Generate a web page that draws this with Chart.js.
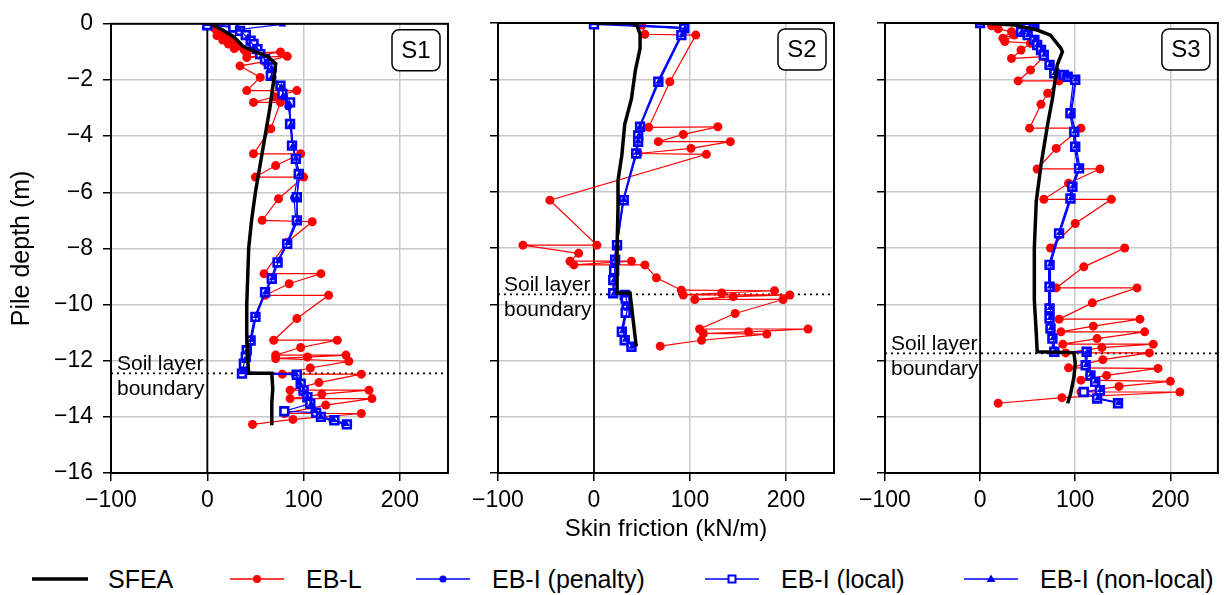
<!DOCTYPE html>
<html>
<head>
<meta charset="utf-8">
<script src="https://cdn.jsdelivr.net/npm/chart.js@4.4.1/dist/chart.umd.min.js"></script>
<style>
  body { margin: 0; background: #fff; }
  #wrap { position: relative; width: 1226px; height: 595px; overflow: hidden;
          font-family: "Liberation Sans", Arial, sans-serif; }
  #wrap canvas { position: absolute; top: 0; }
  .leg-mark { position: absolute; top: 569px; }
  .leg-text { position: absolute; top: 565px; height: 28px; line-height: 28px; font-size: 25px; color: #000; white-space: nowrap; }
</style>
</head>
<body>
<div id="wrap">
  <canvas id="p1" width="460" height="550" style="left:0px"></canvas>
  <canvas id="p2" width="385" height="550" style="left:460px"></canvas>
  <canvas id="p3" width="381" height="550" style="left:845px"></canvas>
  <div id="legend"></div>
</div>
<script>
// axes
const X_TICKS = [-100, 0, 100, 200];
const Y_TICKS = [0, -2, -4, -6, -8, -10, -12, -14, -16];
const PANEL_LABELS = ['S1', 'S2', 'S3'];
const BOUNDARY_DEPTH = [-12.45, -9.65, -11.75];
const LEGEND_LABELS = ['SFEA', 'EB-L', 'EB-I (penalty)', 'EB-I (local)', 'EB-I (non-local)'];

// S1  [skin friction, depth]
const S1_SFEA = [[3,0],[15,-0.2],[27,-0.45],[37,-0.8],[50,-1.0],[62,-1.15],[71,-1.42],[69,-2],[65,-3],[60,-4],[55,-5],[50,-6],[46,-7],[43,-8],[42,-9],[41,-10],[41,-11],[42,-12],[43,-12.45],[67,-12.45],[68,-13],[67,-13.5],[67,-14.3]];
const S1_EBL = [[3,-0.05],[8,-0.18],[14,-0.3],[10,-0.42],[20,-0.48],[16,-0.58],[26,-0.62],[22,-0.72],[32,-0.78],[28,-0.88],[38,-0.92],[41,-1.05],[76,-1.0],[55,-1.12],[41,-1.2],[83,-1.16],[60,-1.35],[34,-1.5],[55,-1.91],[41,-2.38],[93,-2.38],[70,-2.6],[48,-2.8],[76,-2.8],[66,-3.74],[48,-4.63],[97,-4.63],[71,-5.05],[50,-5.46],[100,-5.46],[74,-6.23],[57,-7.0],[109,-7.05],[83,-7.78],[59,-8.9],[118,-8.9],[85,-9.26],[60,-9.67],[126,-9.67],[93,-10.5],[69,-11.27],[135,-11.27],[97,-11.53],[71,-11.8],[144,-11.8],[104,-11.87],[71,-11.92],[147,-12.02],[107,-12.26],[78,-12.48],[160,-12.48],[116,-12.78],[86,-13.05],[168,-13.05],[119,-13.19],[86,-13.35],[171,-13.35],[123,-13.58],[80,-13.88],[160,-13.88],[89,-14.09],[47,-14.27]];
const S1_PENALTY = [[0,0],[25,-0.1],[35,-0.3],[44,-0.55],[50,-0.8],[55,-1.05],[61,-1.3],[66,-1.5],[68,-1.9],[75,-2.25],[80,-2.6],[84,-2.95],[87,-3.6],[89,-4.3],[91,-4.85],[94,-5.4],[90,-6.2],[92,-7.0],[82,-7.85],[72,-8.5],[66,-9.1],[59,-9.6],[49,-10.45],[44,-11.3],[40,-11.7],[37,-12.2],[35,-12.45],[91,-12.5],[96,-12.85],[99,-13.1],[103,-13.35],[106,-13.6],[111,-13.8],[117,-14.0],[130,-14.15],[143,-14.27]];
const S1_LOCAL = [[0,-0.05],[27,-0.13],[34,-0.25],[40,-0.4],[45,-0.6],[48,-0.72],[52,-0.9],[55,-1.08],[60,-1.26],[64,-1.43],[67,-1.55],[66,-1.85],[76,-2.2],[78,-2.5],[86,-2.8],[86,-3.57],[88,-4.34],[92,-4.81],[95,-5.35],[93,-6.18],[93,-7.0],[83,-7.84],[73,-8.5],[67,-9.08],[60,-9.56],[50,-10.44],[45,-11.28],[41,-11.63],[40,-11.87],[38,-12.11],[36,-12.46],[93,-12.5],[97,-12.82],[100,-13.06],[104,-13.3],[107,-13.53],[80,-13.8],[113,-13.85],[118,-14.0],[132,-14.12],[145,-14.27]];
const S1_NONLOCAL = [[0,0],[78,-0.02],[33,-0.2],[42,-0.5],[50,-0.85],[57,-1.15],[63,-1.4],[67,-1.6],[67,-1.9],[77,-2.25],[79,-2.55],[85,-2.85],[87,-3.6],[89,-4.35],[92,-4.8],[96,-5.35],[93,-6.2],[94,-7.0],[84,-7.8],[74,-8.45],[68,-9.05],[61,-9.55],[51,-10.4],[46,-11.25],[42,-11.6],[39,-12.0],[36,-12.4],[92,-12.48],[96,-12.8],[100,-13.05],[104,-13.3],[108,-13.55],[112,-13.78],[118,-14.0],[131,-14.1],[144,-14.25]];

// S2
const S2_SFEA = [[0,0],[38,0],[45,-0.1],[48,-0.4],[48,-0.9],[43,-1.7],[39,-2.7],[32,-3.6],[29,-4.7],[25,-5.6],[25,-6.6],[24,-8],[24,-8.8],[24,-9.6],[37.5,-9.6],[44,-11.5]];
const S2_EBL = [[50,-0.07],[53,-0.4],[106,-0.43],[79,-2.09],[57,-3.71],[129,-3.69],[93,-3.96],[67,-4.22],[142,-4.22],[101,-4.46],[46,-4.64],[117,-4.67],[-46,-6.3],[3,-7.9],[-74,-7.9],[-16,-8.19],[-25,-8.47],[39,-8.47],[-21,-8.6],[53,-8.6],[65,-9.06],[91,-9.5],[188,-9.52],[133,-9.6],[93,-9.67],[204,-9.67],[145,-9.73],[105,-9.83],[197,-9.83],[147,-10.33],[110,-10.88],[223,-10.88],[161,-10.98],[114,-11.04],[180,-11.06],[112,-11.28],[69,-11.49]];
const S2_PENALTY = [[0,0],[93,-0.15],[90,-0.45],[66,-2.1],[47,-3.7],[45,-4.05],[45,-4.25],[43,-4.65],[30,-6.3],[23,-7.9],[21,-8.45],[20,-9.1],[20,-9.6],[31,-9.65],[33,-10.2],[28,-11.0],[31,-11.3],[38,-11.5]];
const S2_LOCAL = [[0,-0.05],[94,-0.19],[91,-0.43],[67,-2.09],[48,-3.69],[46,-4.0],[46,-4.22],[44,-4.64],[31,-6.3],[24,-7.9],[22,-8.42],[21,-8.8],[20,-9.14],[20,-9.61],[32,-9.67],[33,-9.8],[34,-10.15],[33,-10.3],[29,-10.98],[32,-11.28],[39,-11.51]];
const S2_NONLOCAL = [[0,0],[95,-0.2],[92,-0.42],[68,-2.08],[48,-3.7],[47,-4.0],[46,-4.2],[45,-4.6],[31,-6.28],[24,-7.92],[22,-8.4],[21,-9.15],[21,-9.62],[33,-9.68],[35,-10.15],[30,-10.95],[33,-11.25],[40,-11.5]];

// S3
const S3_SFEA = [[0,0],[36,-0.07],[60,-0.25],[74,-0.43],[85,-0.9],[86.5,-1.02],[81,-1.5],[76,-2.7],[71,-3.6],[64,-5.05],[59,-6.35],[57,-8],[57,-9.85],[59,-11],[60,-11.69],[98.6,-11.72],[100,-12.1],[98.6,-12.6],[95,-13.2],[92,-13.52]];
const S3_EBL = [[12,-0.1],[19,-0.21],[33,-0.31],[24,-0.54],[36,-0.43],[26,-0.66],[53,-0.72],[43,-0.96],[33,-1.26],[67,-1.2],[53,-1.67],[40,-2.06],[83,-2.06],[71,-2.5],[64,-2.89],[52,-3.74],[106,-3.74],[80,-4.46],[60,-5.19],[126,-5.19],[93,-5.7],[67,-6.27],[138,-6.27],[100,-7.13],[74,-8.0],[152,-8.0],[109,-8.67],[80,-9.42],[165,-9.42],[118,-9.95],[83,-10.53],[168,-10.53],[119,-10.78],[85,-10.98],[173,-10.98],[123,-11.22],[87,-11.42],[182,-11.42],[128,-11.54],[90,-11.73],[178,-11.73],[129,-11.97],[93,-12.26],[187,-12.28],[133,-12.53],[106,-12.7],[200,-12.74],[146,-12.92],[106,-13.12],[210,-13.12],[86,-13.32],[19,-13.52]];
const S3_PENALTY = [[0,0],[55,-0.04],[42,-0.3],[49,-0.45],[56,-0.62],[59,-0.8],[63,-0.98],[66,-1.15],[72,-1.5],[77,-1.8],[87,-1.87],[91,-1.93],[98,-2.05],[94,-3.2],[98,-3.9],[99,-4.4],[103,-5.2],[96,-5.8],[94,-6.25],[82,-7.5],[72,-8.6],[72,-9.4],[72,-10.1],[72,-10.5],[73,-10.9],[75,-11.25],[77,-11.7],[111,-11.72],[110,-12.2],[115,-12.55],[120,-12.8],[125,-13.05],[122,-13.35],[144,-13.5]];
const S3_LOCAL = [[0,0],[57,-0.05],[43,-0.31],[50,-0.43],[57,-0.6],[60,-0.78],[64,-0.96],[67,-1.14],[73,-1.49],[78,-1.79],[88,-1.85],[92,-1.91],[100,-2.02],[95,-3.21],[99,-3.87],[100,-4.4],[104,-5.17],[97,-5.82],[95,-6.24],[83,-7.48],[73,-8.6],[73,-9.38],[73,-10.15],[73,-10.5],[74,-10.86],[76,-11.22],[78,-11.69],[112,-11.69],[111,-12.17],[116,-12.53],[121,-12.76],[126,-13.06],[109,-13.12],[123,-13.35],[145,-13.52]];
const S3_NONLOCAL = [[0,0],[58,-0.06],[44,-0.32],[51,-0.42],[58,-0.58],[61,-0.76],[65,-0.95],[68,-1.12],[74,-1.48],[79,-1.78],[89,-1.84],[93,-1.9],[101,-2.0],[96,-3.22],[100,-3.85],[101,-4.38],[105,-5.15],[98,-5.8],[96,-6.22],[84,-7.46],[74,-8.58],[74,-9.36],[74,-10.12],[74,-10.48],[75,-10.84],[77,-11.2],[79,-11.68],[113,-11.7],[112,-12.15],[117,-12.5],[122,-12.74],[127,-13.04],[124,-13.34],[146,-13.5]];

const FONT = '"Liberation Sans", Arial, sans-serif';
Chart.defaults.font.family = FONT;
Chart.defaults.color = '#000';

const RED = '#ff0000';
const BLUE = '#0000ff';

function pts(arr) { return arr.map(([x, y]) => ({ x, y })); }

// frame, soil layer note and the S-label box
const panelDeco = {
  id: 'panelDeco',
  afterDatasetsDraw(chart, args, opts) {
    const { ctx, chartArea: a, scales } = chart;
    ctx.save();
    ctx.strokeStyle = '#000';
    ctx.lineWidth = 2;
    ctx.strokeRect(a.left, a.top, a.right - a.left, a.bottom - a.top);

    const yb = scales.y.getPixelForValue(opts.boundary);
    ctx.fillStyle = '#000';
    ctx.font = '21px ' + FONT;
    ctx.textAlign = 'left';
    ctx.textBaseline = 'middle';
    ctx.fillText('Soil layer', a.left + 6, yb - 9);
    ctx.fillText('boundary', a.left + 6, yb + 16);

    const w = 48, h = 41, x = a.right - 8 - w, y = a.top + 6;
    ctx.beginPath();
    ctx.roundRect(x, y, w, h, 7);
    ctx.fillStyle = '#fff';
    ctx.fill();
    ctx.lineWidth = 1.5;
    ctx.stroke();
    ctx.fillStyle = '#000';
    ctx.font = '24px ' + FONT;
    ctx.textAlign = 'center';
    ctx.fillText(opts.label, x + w / 2, y + h / 2 + 1);
    ctx.restore();
  }
};

function makePanel(id, idx, series, yAxisWidth, padRight, showYLabels, showXTitle) {
  const [sfea, ebl, pen, loc, nonloc] = series;
  const b = BOUNDARY_DEPTH[idx];
  new Chart(document.getElementById(id), {
    type: 'scatter',
    data: {
      datasets: [
        { data: pts(sfea), showLine: true, borderColor: '#000', borderWidth: 3.5, pointRadius: 0, order: 0 },
        { data: pts(nonloc), showLine: true, borderColor: BLUE, borderWidth: 1.2, pointStyle: 'triangle', pointRadius: 4.5, backgroundColor: BLUE, pointBorderWidth: 0, order: 1 },
        { data: pts(loc), showLine: true, borderColor: BLUE, borderWidth: 1.2, pointStyle: 'rect', pointRadius: 5.5, pointBackgroundColor: '#fff', pointBorderColor: BLUE, pointBorderWidth: 2.6, order: 1 },
        { data: pts(pen), showLine: true, borderColor: BLUE, borderWidth: 1.2, pointStyle: 'circle', pointRadius: 3.8, backgroundColor: BLUE, pointBorderWidth: 0, order: 1 },
        { data: pts(ebl), showLine: true, borderColor: RED, borderWidth: 1.2, pointStyle: 'circle', pointRadius: 4.5, backgroundColor: RED, pointBorderWidth: 0, order: 2 },
        { data: [{ x: X_TICKS[0], y: b }, { x: 250, y: b }], showLine: true, borderColor: '#000', borderWidth: 1.8, borderDash: [2, 4], pointRadius: 0, order: 3 },
        { data: [{ x: 0, y: Y_TICKS[0] }, { x: 0, y: Y_TICKS[Y_TICKS.length - 1] }], showLine: true, borderColor: '#000', borderWidth: 1.8, pointRadius: 0, order: 3 }
      ]
    },
    options: {
      responsive: false,
      animation: false,
      events: [],
      layout: { padding: { left: 0, right: padRight, top: 23, bottom: 0 } },
      plugins: {
        legend: { display: false },
        tooltip: { enabled: false },
        panelDeco: { label: PANEL_LABELS[idx], boundary: b }
      },
      scales: {
        x: {
          type: 'linear', min: -100, max: 250,
          afterBuildTicks: axis => { axis.ticks = X_TICKS.map(v => ({ value: v })); },
          afterFit: axis => { axis.height = 77; },
          grid: { color: '#c8c8c8', lineWidth: 1.5, tickColor: '#000', tickLength: 8, tickWidth: 1.5 },
          border: { display: false },
          ticks: { font: { size: 23 }, padding: 6, maxRotation: 0, autoSkip: false,
                   callback: v => (v < 0 ? '\u2212' + Math.abs(v) : String(v)) },
          title: { display: showXTitle, text: 'Skin friction (kN/m)', font: { size: 24 }, padding: 6 }
        },
        y: {
          type: 'linear', min: -16, max: 0,
          afterBuildTicks: axis => { axis.ticks = Y_TICKS.map(v => ({ value: v })); },
          afterFit: axis => { axis.width = yAxisWidth; },
          grid: { color: '#c8c8c8', lineWidth: 1.5, tickColor: '#000', tickLength: 8, tickWidth: 1.5 },
          border: { display: false },
          ticks: { display: showYLabels, font: { size: 23 }, padding: 10, autoSkip: false,
                   callback: v => (v < 0 ? '\u2212' + Math.abs(v) : String(v)) },
          title: { display: showYLabels, text: 'Pile depth (m)', font: { size: 25 }, padding: 7 }
        }
      }
    },
    plugins: [panelDeco]
  });
}

makePanel('p1', 0, [S1_SFEA, S1_EBL, S1_PENALTY, S1_LOCAL, S1_NONLOCAL], 111, 12, true, false);
makePanel('p2', 1, [S2_SFEA, S2_EBL, S2_PENALTY, S2_LOCAL, S2_NONLOCAL], 38, 11, false, true);
makePanel('p3', 2, [S3_SFEA, S3_EBL, S3_PENALTY, S3_LOCAL, S3_NONLOCAL], 40, 4, false, false);

// legend below the panels
const LEGEND_LEFT = [32, 230, 416, 705, 964];
const LEGEND_MARKS = [
  '<line x1="0" y1="10" x2="56" y2="10" stroke="#000" stroke-width="3.5"/>',
  '<line x1="0" y1="10" x2="54" y2="10" stroke="#f00" stroke-width="1.3"/><circle cx="27" cy="10" r="4" fill="#f00"/>',
  '<line x1="0" y1="10" x2="54" y2="10" stroke="#00f" stroke-width="1.3"/><circle cx="27" cy="10" r="3.6" fill="#00f"/>',
  '<line x1="0" y1="10" x2="54" y2="10" stroke="#00f" stroke-width="1.3"/><rect x="23.5" y="6.5" width="7" height="7" fill="#fff" stroke="#00f" stroke-width="2"/>',
  '<line x1="0" y1="10" x2="54" y2="10" stroke="#00f" stroke-width="1.3"/><polygon points="27,5.5 31.5,13 22.5,13" fill="#00f"/>'
];
const legend = document.getElementById('legend');
LEGEND_LABELS.forEach((label, i) => {
  const mark = document.createElement('div');
  mark.className = 'leg-mark';
  mark.style.left = LEGEND_LEFT[i] + 'px';
  mark.innerHTML = '<svg width="56" height="20">' + LEGEND_MARKS[i] + '</svg>';
  legend.appendChild(mark);
  const txt = document.createElement('div');
  txt.className = 'leg-text';
  txt.style.left = (LEGEND_LEFT[i] + 76) + 'px';
  txt.textContent = label;
  legend.appendChild(txt);
});
</script>
</body>
</html>
